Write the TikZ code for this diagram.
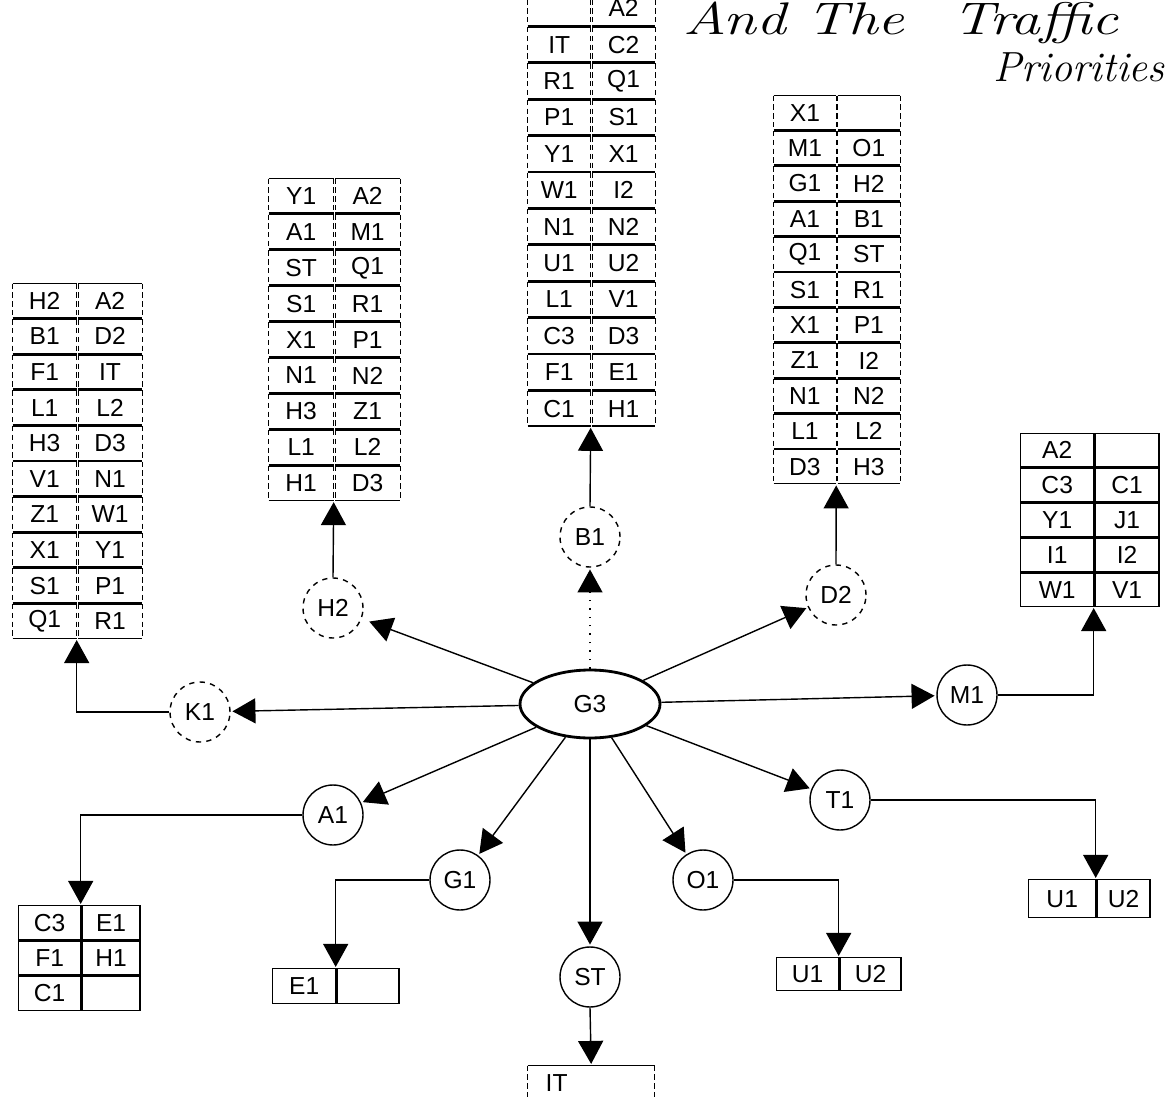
\documentclass[tikz,border=0pt]{standalone}
\usepackage{graphicx}
\usepackage{fontspec}
\newfontfamily\arialish{Liberation Sans}
\usetikzlibrary{shapes.geometric,arrows.meta,matrix,positioning}

\begin{document}
\begin{tikzpicture}[
      x=0.02cm, y=-0.02cm,
      lbl/.style={font=\arialish\fontsize{14}{16}\selectfont},
      hline/.style={line width=0.8pt},
      vline/.style={line width=0.5pt, densely dashed},
      cell/.style={
        lbl, anchor=center, inner sep=0pt, outer sep=0pt,
        append after command={
          (\tikzlastnode.north west) edge[hline] (\tikzlastnode.north east)
          (\tikzlastnode.south west) edge[hline] (\tikzlastnode.south east)
          (\tikzlastnode.north west) edge[vline] (\tikzlastnode.south west)
          (\tikzlastnode.north east) edge[vline] (\tikzlastnode.south east)
        }
      },
      boxcell/.style={
        lbl, anchor=center, draw, line width=0.8pt, inner sep=0pt, outer sep=0pt
      },
      tabl/.style={
        matrix of nodes, nodes in empty cells,
        inner sep=0pt, outer sep=0pt,
        column sep=0pt, row sep=0pt,
        anchor=north west
      },
      station/.style={
        circle, draw, thick, lbl,
        minimum size=1.2cm, inner sep=0pt
      },
      faint/.style={station, dashed},
      hub/.style={
        ellipse, draw, line width=1.6pt, lbl,
        minimum width=2.8cm, minimum height=1.36cm
      },
      arrow/.style={
        -{Triangle[length=4.6mm,width=5mm]},
        thick, shorten >=1pt
      },
      hand/.style={font=\itshape\fontsize{26}{30}\selectfont, inner sep=0pt}
    ]
      \useasboundingbox (0,0) rectangle (1165,1097);
      \clip (0,0) rectangle (1165,1097);

      % handwritten note
      \node[hand, anchor=base west] (note1) at (683,35) {\scalebox{1.3}[1]{And The\hspace{0.8em}Traffic}};
      \node[hand, anchor=base west, font=\itshape\fontsize{24}{28}\selectfont] (note2) at (993,82) {Priorities};

      % tables
      \matrix (tab1) [tabl, nodes={cell, minimum width=1.28cm, minimum height=0.684cm}] at (12,283) {
        H2 & A2 \\ B1 & D2 \\ F1 & IT \\ L1 & L2 \\ H3 & D3 \\
        V1 & N1 \\ Z1 & W1 \\ X1 & Y1 \\ S1 & P1 \\ Q1 & R1 \\
      };
      \matrix (tab2) [tabl, nodes={cell, minimum width=1.3cm, minimum height=0.69cm}] at (268,178) {
        Y1 & A2 \\ A1 & M1 \\ ST & Q1 \\ S1 & R1 \\ X1 & P1 \\
        N1 & N2 \\ H3 & Z1 \\ L1 & L2 \\ H1 & D3 \\
      };
      \matrix (tab3) [tabl, nodes={cell, minimum width=1.26cm, minimum height=0.7cm}] at (527,-10) {
           & A2 \\ IT & C2 \\ R1 & Q1 \\ P1 & S1 \\ Y1 & X1 \\ W1 & I2 \\
        N1 & N2 \\ U1 & U2 \\ L1 & V1 \\ C3 & D3 \\ F1 & E1 \\ C1 & H1 \\
      };
      \matrix (tab4) [tabl, nodes={cell, minimum width=1.25cm, minimum height=0.68cm}] at (773,95) {
        X1 &    \\ M1 & O1 \\ G1 & H2 \\ A1 & B1 \\ Q1 & ST \\ S1 & R1 \\
        X1 & P1 \\ Z1 & I2 \\ N1 & N2 \\ L1 & L2 \\ D3 & H3 \\
      };
      \matrix (tab5) [tabl, nodes={boxcell, minimum height=0.668cm},
          column 1/.style={nodes={minimum width=1.46cm}},
          column 2/.style={nodes={minimum width=1.28cm}}] at (1020,433) {
        A2 &    \\ C3 & C1 \\ Y1 & J1 \\ I1 & I2 \\ W1 & V1 \\
      };
      \matrix (tabA) [tabl, nodes={boxcell, minimum height=0.68cm},
          column 1/.style={nodes={minimum width=1.24cm}},
          column 2/.style={nodes={minimum width=1.16cm}}] at (18,905) {
        C3 & E1 \\ F1 & H1 \\ C1 &    \\
      };
      \matrix (tabG) [tabl, nodes={boxcell, minimum height=0.7cm},
          column 1/.style={nodes={minimum width=1.26cm}},
          column 2/.style={nodes={minimum width=1.24cm}}] at (272,968) {
        E1 & \\
      };
      \matrix (tabS) [tabl, nodes={cell, minimum width=2.54cm, minimum height=0.7cm,
          text width=1.82cm, align=left}] at (527,1065) {
        IT \\
      };
      \matrix (tabO) [tabl, nodes={boxcell, minimum height=0.66cm},
          column 1/.style={nodes={minimum width=1.24cm}},
          column 2/.style={nodes={minimum width=1.22cm}}] at (776,957) {
        U1 & U2 \\
      };
      \matrix (tabT) [tabl, nodes={boxcell, minimum height=0.76cm},
          column 1/.style={nodes={minimum width=1.34cm}},
          column 2/.style={nodes={minimum width=1.06cm}}] at (1028,879) {
        U1 & U2 \\
      };

      % stations
      \node[hub] (G3) at (590,704) {G3};
      \node[faint] (H2) at (333,608) {H2};
      \node[faint] (K1) at (200,712) {K1};
      \node[faint] (B1) at (590,537) {B1};
      \node[faint] (D2) at (836,595) {D2};
      \node[station] (A1) at (333,815) {A1};
      \node[station] (G1) at (460,880) {G1};
      \node[station] (ST) at (590,977) {ST};
      \node[station] (O1) at (703,880) {O1};
      \node[station] (T1) at (840,800) {T1};
      \node[station] (M1) at (967,695) {M1};

      % from the hub
      \draw[arrow, shorten >=0.16cm] (G3) -- (H2);
      \draw[arrow] (G3) -- (K1);
      \draw[arrow] (G3) -- (A1);
      \draw[arrow] (G3) -- (G1);
      \draw[arrow] (G3) -- (ST);
      \draw[arrow] (G3) -- (O1);
      \draw[arrow] (G3) -- (T1);
      \draw[arrow] (G3) -- (M1);
      \draw[arrow] (G3) -- (D2);
      \draw[arrow, loosely dotted] (G3) -- (B1);

      % to the tables
      \draw[arrow] (K1.west) -| (tab1-10-1.south east);
      \draw[arrow] (H2.north) -- (tab2-9-1.south east);
      \draw[arrow] (B1.north) -- (tab3-12-1.south east);
      \draw[arrow] (D2.north) -- (tab4-11-1.south east);
      \draw[arrow] (M1.east) -| (tab5-5-1.south east);
      \draw[arrow] (A1.west) -| (tabA-1-1.north east);
      \draw[arrow] (G1.west) -| (tabG-1-1.north east);
      \draw[arrow] (ST.south) -- (tabS-1-1.north);
      \draw[arrow] (O1.east) -| (tabO-1-1.north east);
      \draw[arrow] (T1.east) -| (tabT-1-1.north east);
    \end{tikzpicture}
\end{document}
